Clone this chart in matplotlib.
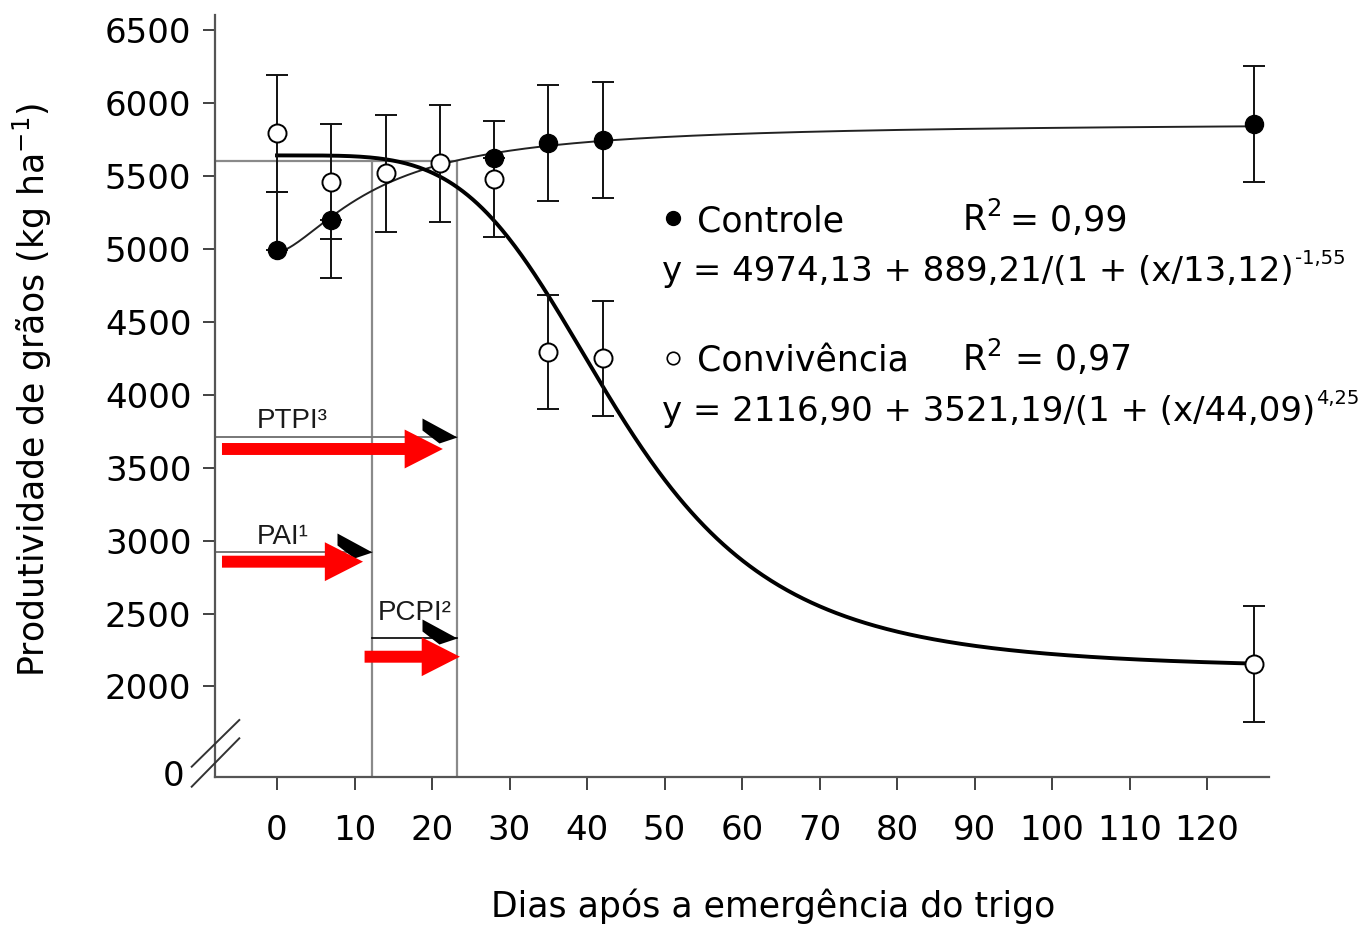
"""
Produtividade de graos do trigo em funcao dos dias de convivencia
com plantas daninhas (Controle x Convivencia) e periodos PAI/PCPI/PTPI.
"""
import numpy as np
import matplotlib
matplotlib.use("Agg")
import matplotlib.pyplot as plt
from matplotlib.path import Path
from matplotlib.lines import Line2D

plt.rcParams["font.family"] = ["DejaVu Sans"]
plt.rcParams["mathtext.fontset"] = "dejavusans"

W, H = 1368, 927

# --- dados -------------------------------------------------------------
dias_controle = [0, 7, 28, 35, 42, 126]
prod_controle = [4990, 5195, 5618, 5723, 5743, 5853]
erro_controle_inf = [0, 395, 0, 395, 395, 395]
erro_controle_sup = [395, 0, 0, 395, 395, 395]

dias_conv = [0, 7, 14, 21, 28, 35, 42, 126]
prod_conv = [5790, 5458, 5515, 5584, 5476, 4291, 4250, 2154]
erro_conv = [400, 395, 400, 400, 400, 393, 394, 395]

# parametros das curvas ajustadas (y = a + b/(1 + (x/c)^d))
param_controle = [4974.13, 889.21, 13.12, -1.55]
param_conv = [2116.90, 3521.19, 44.09, 4.25]

# periodos (dias) e niveis das setas
pai_fim = 12.2
ptpi_fim = 23.2
nivel_ref = 5600
nivel_ptpi = 3707
nivel_pai = 2919
nivel_pcpi = 2330
seta_ptpi = (-7.1, 21.4, 3627)
seta_pai = (-7.1, 11.1, 2855)
seta_pcpi = (11.3, 23.6, 2204)

xticks = list(range(0, 121, 10))
yticks = list(range(2000, 6501, 500))


def fpx(x, y):
    """pixel da figura -> fracao da figura"""
    return x / W, 1 - y / H


def curva(p, x):
    a, b, c, d = p
    with np.errstate(divide="ignore", over="ignore"):
        return a + b / (1 + (x / c) ** d)


fig = plt.figure(figsize=(W / 100, H / 100), dpi=100)
ax = fig.add_axes([215 / W, 1 - 777 / H, (1269 - 215) / W, (777 - 15) / H])
ax.set_xlim(-8, 128)
ax.set_ylim(1380, 6600)

gray = "#8a8a8a"

# linhas de referencia dos periodos
ax.plot([-8, ptpi_fim], [nivel_ref, nivel_ref], color=gray, lw=1.6, zorder=1)
ax.plot([pai_fim, pai_fim], [1380, nivel_ref], color=gray, lw=1.6, zorder=1)
ax.plot([ptpi_fim, ptpi_fim], [1380, nivel_ref], color=gray, lw=1.6, zorder=1)

ax.plot([-8, ptpi_fim], [nivel_ptpi, nivel_ptpi], color="#777777", lw=1.4, zorder=2)
ax.plot([-8, pai_fim], [nivel_pai, nivel_pai], color="#777777", lw=1.4, zorder=2)
ax.plot([pai_fim, ptpi_fim], [nivel_pcpi, nivel_pcpi], color="black", lw=1.2, zorder=2)

# ponta preta em cunha
verts = [(0, 0), (-35, 19), (-35, 7), (-18, -6), (0, 0)]
cunha = Path(verts, [Path.MOVETO] + [Path.LINETO] * 3 + [Path.CLOSEPOLY])
ms_cunha = 2 * 35 / (100 / 72)
ax.plot([ptpi_fim, pai_fim, ptpi_fim], [nivel_ptpi, nivel_pai, nivel_pcpi],
        linestyle="none", marker=cunha, markersize=ms_cunha,
        color="black", markeredgewidth=0, zorder=3, clip_on=False)

# setas vermelhas
for x0, x1, y in (seta_ptpi, seta_pai, seta_pcpi):
    ax.annotate("", xy=(x1, y), xytext=(x0, y),
                arrowprops=dict(arrowstyle="simple,head_length=2.75,"
                                "head_width=2.8,tail_width=0.86",
                                mutation_scale=10, color="#ff0000", lw=0,
                                shrinkA=0, shrinkB=0), zorder=4)

ax.text(-2.6, 3771, "PTPI³", fontsize=20, family="Liberation Sans", color="#1a1a1a")
ax.text(-2.6, 2976, "PAI¹", fontsize=20, family="Liberation Sans", color="#1a1a1a")
ax.text(13.0, 2455, "PCPI²", fontsize=20, family="Liberation Sans", color="#1a1a1a")

# curvas ajustadas
xx = np.linspace(0, dias_conv[-1], 600)
ax.plot(xx, curva(param_controle, xx), color="#222222", lw=1.4, zorder=5)
ax.plot(xx, curva(param_conv, xx), color="black", lw=2.8, zorder=5)

# barras de erro
ax.errorbar(dias_conv, prod_conv, yerr=erro_conv, fmt="none", ecolor="#111111",
            elinewidth=1.4, capsize=8, capthick=1.4, zorder=6)
ax.errorbar(dias_controle, prod_controle,
            yerr=[erro_controle_inf, erro_controle_sup], fmt="none",
            ecolor="#111111", elinewidth=1.4, capsize=8, capthick=1.4, zorder=6)

ax.plot(dias_conv, prod_conv, "o", ms=13, mfc="white", mec="black", mew=1.4,
        zorder=7, clip_on=False)
ax.plot(dias_controle, prod_controle, "o", ms=13, mfc="black", mec="black",
        zorder=8, clip_on=False)

# eixos
for s in ("top", "right"):
    ax.spines[s].set_visible(False)
for s in ("left", "bottom"):
    ax.spines[s].set_color("#555555")
    ax.spines[s].set_linewidth(1.6)
ax.set_xticks(xticks)
ax.set_yticks(yticks)
ax.tick_params(axis="both", direction="out", length=9, width=1.3,
               color="#333333", labelsize=24.5)
ax.tick_params(axis="x", pad=18)
ax.tick_params(axis="y", pad=8)

fig.text(*fpx(184, 776), "0", fontsize=24.5, ha="right", va="center")
for (xa, ya), (xb, yb) in (((191.7, 766.7), (239.3, 720.0)),
                           ((191.7, 786.7), (239.3, 738.3))):
    fa, fb = fpx(xa, ya), fpx(xb, yb)
    fig.add_artist(Line2D([fa[0], fb[0]], [fa[1], fb[1]], color="#333333", lw=1.4))

ax.set_xlabel("Dias após a emergência do trigo", fontsize=25)
ax.xaxis.set_label_coords((773 - 215) / 1054, (777 - 888) / 762)
fig.text(*fpx(32, 390), r"Produtividade de grãos (kg ha$^{-1}$)", fontsize=25,
         rotation=90, ha="center", va="center")

# legenda / equacoes
ax.plot(*fpx(673, 218), "o", ms=10, color="black", transform=fig.transFigure,
        clip_on=False)
ax.plot(*fpx(673, 358), "o", ms=9, mfc="white", mec="black", mew=1.2,
        transform=fig.transFigure, clip_on=False)
fig.text(*fpx(697, 231), "Controle", fontsize=25, va="baseline")
fig.text(*fpx(962, 231), r"R$^2$", fontsize=25, va="baseline")
fig.text(*fpx(1010, 231), "= 0,99", fontsize=25, va="baseline")
fig.text(*fpx(697, 371), "Convivência", fontsize=25, va="baseline")
fig.text(*fpx(962, 371), r"R$^2$ = 0,97", fontsize=25, va="baseline")

renderer = fig.canvas.get_renderer()
for base_y, corpo, expoente in ((281, "y = 4974,13 + 889,21/(1 + (x/13,12)", "-1,55"),
                                (421, "y = 2116,90 + 3521,19/(1 + (x/44,09)", "4,25")):
    t = fig.text(*fpx(662, base_y), corpo, fontsize=24.5, va="baseline")
    x_fim = t.get_window_extent(renderer).x1
    fig.text(x_fim / W + 1 / W, 1 - (base_y - 17) / H, expoente, fontsize=14,
             va="baseline")

fig.savefig("out.png", dpi=100)
